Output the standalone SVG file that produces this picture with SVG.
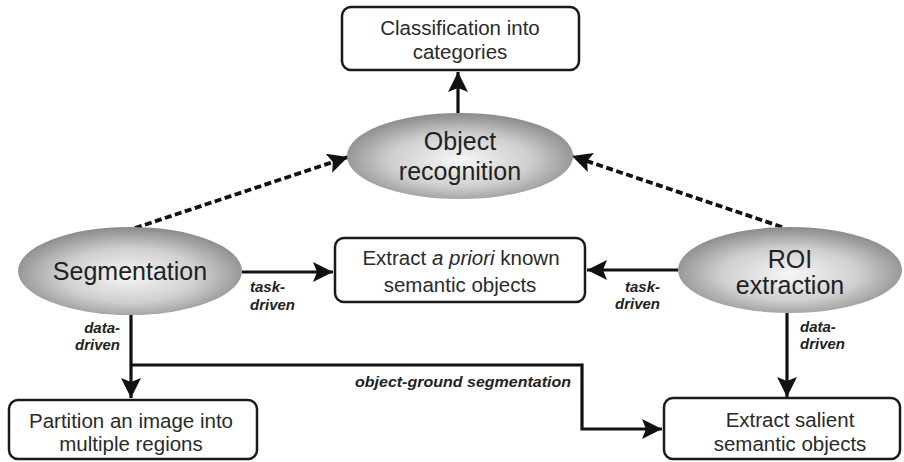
<svg xmlns="http://www.w3.org/2000/svg" width="904" height="462" viewBox="0 0 904 462">
  <style>
    .box { fill: #ffffff; stroke: #1a1a1a; stroke-width: 2.5; }
    .ell { fill: url(#shade); stroke: none; }
    .btxt { font-family: "Liberation Sans", Arial, sans-serif; font-size: 20.5px; fill: #2a2a2a; text-anchor: middle; }
    .etxt { font-family: "Liberation Sans", Arial, sans-serif; font-size: 25px; fill: #222222; text-anchor: middle; }
    .lbl { font-family: "Liberation Sans", Arial, sans-serif; font-size: 15px; font-weight: bold; font-style: italic; fill: #222222; }
    .solid { fill: none; stroke: #111111; stroke-width: 3.2; }
    .dash { fill: none; stroke: #111111; stroke-width: 3.8; stroke-dasharray: 7 3.5; }
  </style>
  <defs>
    <radialGradient id="shade" cx="50%" cy="55%" r="55%">
      <stop offset="0" stop-color="#f6f6f6"/>
      <stop offset="0.55" stop-color="#d0d0d0"/>
      <stop offset="1" stop-color="#8a8a8a"/>
    </radialGradient>
    <marker id="head" markerUnits="userSpaceOnUse" markerWidth="22" markerHeight="20" refX="20" refY="10" orient="auto">
      <path d="M0,0 L20,10 L0,20 L4,10 Z" fill="#111111"/>
    </marker>
  </defs>

  <!-- connectors -->
  <g id="connectors">
    <line class="solid" x1="458" y1="113" x2="458" y2="72" marker-end="url(#head)"/>
    <line class="dash" x1="135" y1="228" x2="348" y2="157" marker-end="url(#head)"/>
    <line class="dash" x1="782" y1="227" x2="572" y2="156" marker-end="url(#head)"/>
    <line class="solid" x1="242" y1="272" x2="333" y2="272" marker-end="url(#head)"/>
    <line class="solid" x1="678" y1="270" x2="587" y2="270" marker-end="url(#head)"/>
    <line class="solid" x1="131" y1="315" x2="131" y2="398" marker-end="url(#head)"/>
    <line class="solid" x1="787" y1="313" x2="787" y2="397" marker-end="url(#head)"/>
    <polyline class="solid" points="131,365 582,365 582,429 662,429" marker-end="url(#head)"/>
    <text class="lbl" x="250" y="292">task-</text>
    <text class="lbl" x="250" y="310">driven</text>
    <text class="lbl" x="660" y="292" text-anchor="end">task-</text>
    <text class="lbl" x="660" y="309" text-anchor="end">driven</text>
    <text class="lbl" x="120" y="333" text-anchor="end">data-</text>
    <text class="lbl" x="120" y="350" text-anchor="end">driven</text>
    <text class="lbl" x="800" y="332">data-</text>
    <text class="lbl" x="800" y="349">driven</text>
    <text class="lbl" x="355" y="387" textLength="216" lengthAdjust="spacingAndGlyphs">object-ground segmentation</text>
  </g>

  <g id="classification">
    <rect class="box" x="342" y="7" width="237" height="63" rx="9"/>
    <text class="btxt" x="460" y="35">Classification into</text>
    <text class="btxt" x="460" y="59">categories</text>
  </g>

  <g id="object-recognition">
    <ellipse class="ell" cx="460" cy="156" rx="113" ry="43"/>
    <text class="etxt" x="460" y="150">Object</text>
    <text class="etxt" x="460" y="180">recognition</text>
  </g>

  <g id="segmentation">
    <ellipse class="ell" cx="130" cy="271" rx="112" ry="44"/>
    <text class="etxt" x="130" y="280">Segmentation</text>
  </g>

  <g id="roi-extraction">
    <ellipse class="ell" cx="790" cy="270" rx="112" ry="43"/>
    <text class="etxt" x="790" y="268">ROI</text>
    <text class="etxt" x="790" y="294">extraction</text>
  </g>

  <g id="extract-known">
    <rect class="box" x="335" y="238" width="250" height="64" rx="9"/>
    <text class="btxt" x="461" y="265">Extract <tspan font-style="italic">a priori</tspan> known</text>
    <text class="btxt" x="460" y="292">semantic objects</text>
  </g>

  <g id="partition">
    <rect class="box" x="9" y="400" width="248" height="59" rx="9"/>
    <text class="btxt" x="131" y="428">Partition an image into</text>
    <text class="btxt" x="131" y="451">multiple regions</text>
  </g>

  <g id="extract-salient">
    <rect class="box" x="664" y="398" width="236" height="61" rx="9"/>
    <text class="btxt" x="790" y="427">Extract salient</text>
    <text class="btxt" x="790" y="451">semantic objects</text>
  </g>
</svg>
